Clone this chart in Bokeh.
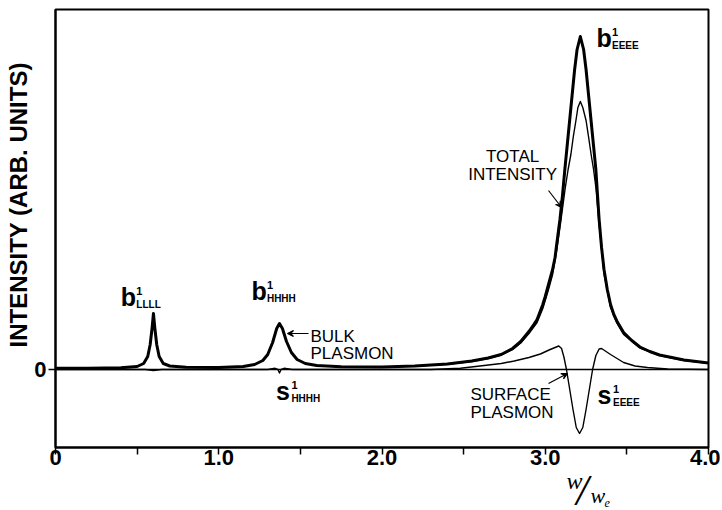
from bokeh.plotting import figure
from bokeh.layouts import column
from bokeh.models import Range1d, FixedTicker, Label, Arrow, VeeHead, Span, Title
from bokeh.embed import file_html
from bokeh.resources import INLINE

# ---- data ----
bulk_x = [0.00, 0.20, 0.40, 0.50, 0.54, 0.565, 0.58, 0.592, 0.60, 0.608, 0.62, 0.635, 0.66, 0.70, 0.80,
          1.00, 1.15, 1.22, 1.27, 1.30, 1.33, 1.355, 1.372, 1.39, 1.415, 1.445, 1.48, 1.53, 1.60, 1.75,
          2.00, 2.20, 2.40, 2.55, 2.65, 2.73, 2.80, 2.85, 2.90, 2.93, 2.95, 2.985, 3.00, 3.02, 3.045,
          3.06, 3.07, 3.09, 3.105, 3.12, 3.135, 3.15, 3.165, 3.18, 3.195, 3.215, 3.235, 3.25, 3.265,
          3.28, 3.295, 3.31, 3.32, 3.33, 3.345, 3.36, 3.38, 3.40, 3.42, 3.44, 3.48, 3.53, 3.58, 3.64,
          3.70, 3.85, 4.00]
bulk_y = [0.012, 0.012, 0.018, 0.03, 0.06, 0.13, 0.25, 0.42, 0.56, 0.42, 0.25, 0.13, 0.06, 0.035, 0.022,
          0.02, 0.03, 0.05, 0.09, 0.15, 0.27, 0.41, 0.46, 0.41, 0.28, 0.17, 0.10, 0.06, 0.04, 0.028,
          0.025, 0.035, 0.055, 0.085, 0.115, 0.15, 0.21, 0.28, 0.38, 0.45, 0.50, 0.65, 0.73, 0.85, 1.00,
          1.12, 1.25, 1.50, 1.73, 2.00, 2.25, 2.50, 2.75, 3.00, 3.20, 3.33, 3.20, 3.00, 2.75,
          2.50, 2.25, 2.00, 1.75, 1.50, 1.22, 1.00, 0.80, 0.65, 0.55, 0.48, 0.37, 0.29, 0.225, 0.18,
          0.145, 0.095, 0.065]

total_x = [1.60, 1.75, 2.00, 2.20, 2.40, 2.55, 2.65, 2.73, 2.80, 2.85, 2.90, 2.95, 2.985, 3.02, 3.045,
           3.07, 3.09, 3.105, 3.122, 3.14, 3.157, 3.172, 3.188, 3.20, 3.215, 3.23, 3.25, 3.265, 3.281,
           3.296, 3.311, 3.33, 3.36, 3.40, 3.44, 3.48, 3.58, 3.70, 3.85, 4.00]
total_y = [0.04, 0.028, 0.025, 0.034, 0.053, 0.08, 0.11, 0.145, 0.20, 0.265, 0.36, 0.47, 0.61, 0.80, 0.95,
           1.19, 1.42, 1.60, 1.81, 2.00, 2.15, 2.33, 2.49, 2.62, 2.68, 2.62, 2.49, 2.33, 2.15,
           2.00, 1.81, 1.45, 0.96, 0.62, 0.46, 0.35, 0.215, 0.14, 0.09, 0.062]

surf_x = [0.00, 0.55, 0.60, 0.65, 1.30, 1.345, 1.362, 1.372, 1.382, 1.40, 1.45, 2.30, 2.48, 2.60, 2.73,
          2.81, 2.90, 2.97, 3.03, 3.083, 3.10, 3.115, 3.13, 3.145, 3.17, 3.19, 3.21, 3.23, 3.25, 3.275,
          3.29, 3.31, 3.33, 3.345, 3.40, 3.48, 3.55, 3.626, 3.75, 4.00]
surf_y = [0.0, 0.0, -0.01, 0.0, 0.0, 0.012, 0.0, -0.035, 0.0, 0.012, 0.0, 0.0, 0.012, 0.035, 0.06,
          0.085, 0.12, 0.155, 0.20, 0.235, 0.21, 0.12, 0.0, -0.15, -0.40, -0.58, -0.64, -0.58, -0.40, -0.15,
          0.0, 0.14, 0.205, 0.21, 0.15, 0.07, 0.035, 0.02, 0.005, 0.0]

x_ticks = [0, 1, 2, 3, 4]
x_minor = [0.5, 1.5, 2.5, 3.5]
x_tick_labels = {0: "0", 1: "1.0", 2: "2.0", 3: "3.0", 4: "4.0"}

SANS = "Liberation Sans"
SERIF = "Liberation Serif"

p = figure(width=720, height=475, output_backend="svg", toolbar_location=None,
           x_range=Range1d(0, 4.0), y_range=Range1d(-0.78, 3.60))
p.title = None
p.min_border_left = 55
p.min_border_right = 12
p.min_border_top = 9
p.min_border_bottom = 28
p.xgrid.visible = False
p.ygrid.visible = False
p.background_fill_color = "white"
p.border_fill_color = "white"
p.outline_line_color = "black"
p.outline_line_width = 2

xa = p.xaxis[0]
xa.ticker = FixedTicker(ticks=x_ticks, minor_ticks=x_minor)
xa.major_label_overrides = x_tick_labels
xa.axis_line_width = 2
xa.major_tick_in = 0
xa.major_tick_out = 7
xa.minor_tick_in = 0
xa.minor_tick_out = 7
xa.major_tick_line_width = 1.5
xa.minor_tick_line_width = 1.5
xa.major_label_text_font = SANS
xa.major_label_text_font_size = "22px"
xa.major_label_text_font_style = "bold"
xa.major_label_text_color = "black"
xa.major_label_standoff = -5

ya = p.yaxis[0]
ya.ticker = FixedTicker(ticks=[0], minor_ticks=[])
ya.axis_line_width = 2
ya.major_tick_in = 0
ya.major_tick_out = 7
ya.major_tick_line_width = 1.5
ya.major_label_text_font = SANS
ya.major_label_text_font_size = "22px"
ya.major_label_text_font_style = "bold"
ya.major_label_text_color = "black"
ya.major_label_standoff = 2

p.add_layout(Title(text="INTENSITY (ARB. UNITS)", align="left", offset=100, standoff=0,
                   text_font=SANS, text_font_size="24px", text_font_style="bold",
                   text_color="black"), "left")

p.add_layout(Span(location=0, dimension="width", line_color="black", line_width=1.3))

p.line(bulk_x, bulk_y, line_color="black", line_width=3, line_join="round")
p.line(total_x, total_y, line_color="black", line_width=1.4, line_join="round")
p.line(surf_x, surf_y, line_color="black", line_width=1.4, line_join="round")


def lab(fig, x, y, t, size, style="normal", font=SANS, align="left", ppu=100.0):
    # y is the wanted baseline; Bokeh draws the alphabetic baseline ~0.33 em lower
    fig.add_layout(Label(x=x, y=y + 0.33 * size / ppu, text=t, text_font=font,
                         text_font_size=f"{size}px", text_font_style=style,
                         text_color="black", text_align=align, text_baseline="alphabetic"))


def sym(x, y, main, sub):
    lab(p, x, y, main, 25, "bold")
    lab(p, x + 0.095, y + 0.11, "1", 11, "bold")
    lab(p, x + 0.095, y - 0.02, sub, 10, "bold")


sym(0.40, 0.64, "b", "LLLL")
sym(1.20, 0.70, "b", "HHHH")
sym(3.314, 3.23, "b", "EEEE")
sym(1.35, -0.30, "s", "HHHH")
sym(3.32, -0.34, "s", "EEEE")

lab(p, 1.562, 0.27, "BULK", 17)
lab(p, 1.562, 0.10, "PLASMON", 17)
lab(p, 2.80, 2.07, "TOTAL", 17, align="center")
lab(p, 2.80, 1.89, "INTENSITY", 17, align="center")
lab(p, 2.542, -0.31, "SURFACE", 17)
lab(p, 2.542, -0.49, "PLASMON", 17)

for xs, ys, xe, ye in [(1.55, 0.36, 1.421, 0.36), (3.02, 1.79, 3.10, 1.62), (3.02, -0.14, 3.136, -0.04)]:
    p.add_layout(Arrow(end=VeeHead(size=6, line_width=1.2, line_color="black"),
                       x_start=xs, y_start=ys, x_end=xe, y_end=ye,
                       line_color="black", line_width=1.2))

# x-axis quantity label w/w_e in a strip below the plot (y in pixels from strip bottom)
q = figure(width=720, height=35, output_backend="svg", toolbar_location=None,
           x_range=p.x_range, y_range=Range1d(0, 35),
           x_axis_type=None, y_axis_type=None)
q.title = None
q.min_border_left = 55
q.min_border_right = 12
q.min_border_top = 0
q.min_border_bottom = 0
q.xgrid.visible = False
q.ygrid.visible = False
q.outline_line_color = None
q.background_fill_color = "white"
q.border_fill_color = "white"

lab(q, 3.13, 22, "w", 24, "italic", font=SERIF, ppu=1.0)
lab(q, 3.19, 5, "/", 44, "italic", font=SERIF, ppu=1.0)
lab(q, 3.277, 8, "w", 22, "italic", font=SERIF, ppu=1.0)
lab(q, 3.363, 4, "e", 12, "italic", font=SERIF, ppu=1.0)

layout = column(p, q, spacing=0)
open("out.html", "w").write(file_html(layout, INLINE))
